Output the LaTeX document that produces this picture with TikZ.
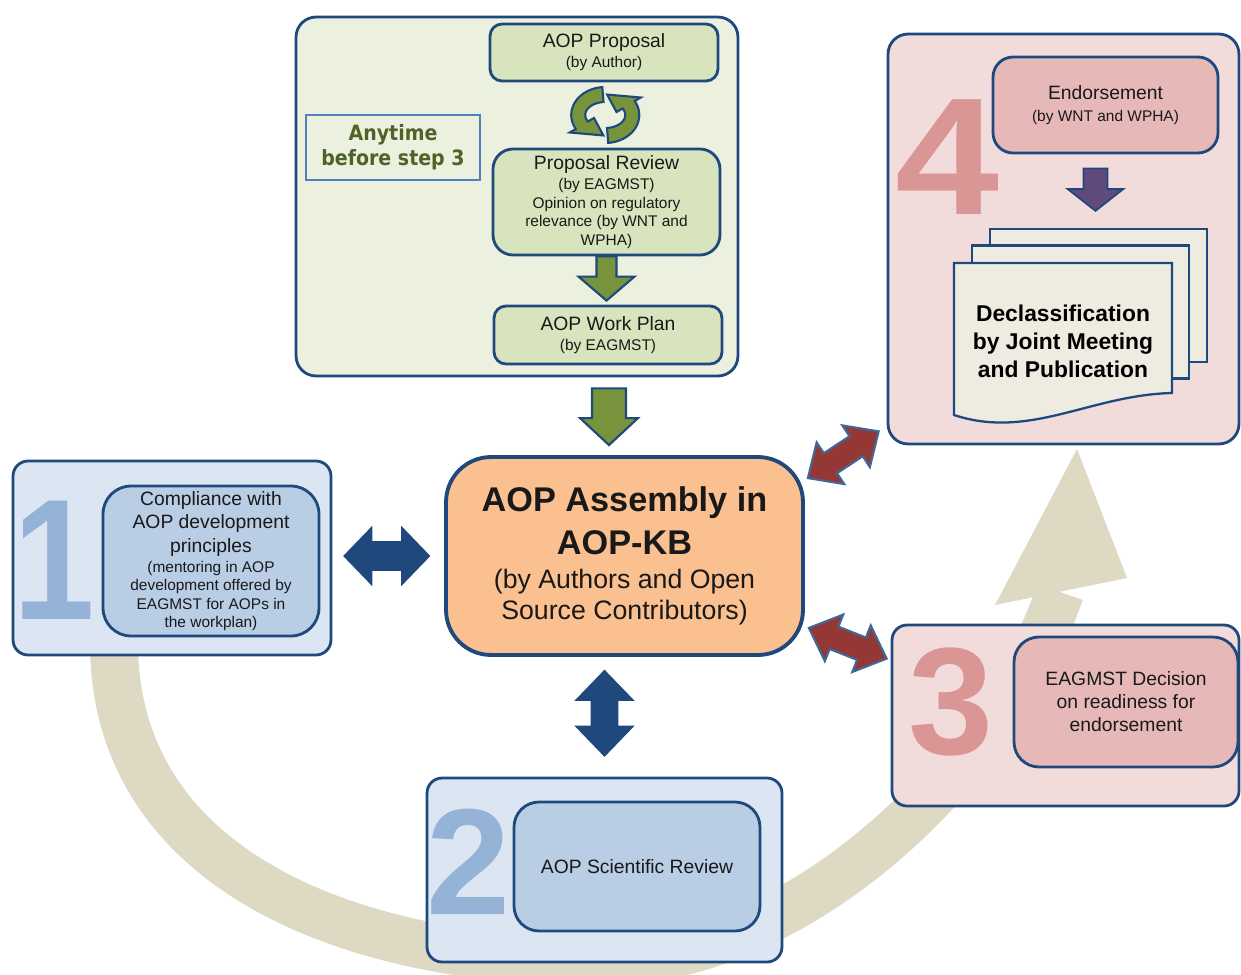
\documentclass[tikz,border=0pt]{standalone}
\usepackage{fontspec}
\setmainfont{Liberation Sans}
\newfontfamily\anytimefont{DejaVu Sans}[FakeStretch=0.9]
\usepackage{tikz}
\definecolor{Dblue}{RGB}{31,73,125}
\definecolor{Sblue}{RGB}{79,129,189}
\definecolor{Gpanel}{RGB}{235,241,222}
\definecolor{Gbox}{RGB}{215,228,189}
\definecolor{Garrow}{RGB}{119,147,60}
\definecolor{Gtext}{RGB}{79,98,40}
\definecolor{Orange}{RGB}{250,192,144}
\definecolor{Bpanel}{RGB}{220,230,242}
\definecolor{Bbox}{RGB}{185,205,229}
\definecolor{Bnum}{RGB}{149,179,215}
\definecolor{Rpanel}{RGB}{242,220,219}
\definecolor{Rbox}{RGB}{230,185,184}
\definecolor{Rnum}{RGB}{217,150,148}
\definecolor{Rarrow}{RGB}{149,55,53}
\definecolor{Parrow}{RGB}{96,74,123}
\definecolor{Beige}{RGB}{221,217,195}
\definecolor{Paper}{RGB}{238,236,225}
\usetikzlibrary{calc}

\newcommand{\maintxt}{\fontsize{11}{13.4}\selectfont}
\newcommand{\smalltxt}{\fontsize{8.8}{10.5}\selectfont}

% block arrow: style, from, to, half shaft, half head, head length
\newcommand{\sglarrow}[6]{%
  \coordinate (ah) at ($(#3)!#6!(#2)$);
  \filldraw[#1] ($(#2)!#4!90:(#3)$) -- ($(ah)!#4!90:(#3)$) -- ($(ah)!#5!90:(#3)$) -- (#3)
    -- ($(ah)!#5!-90:(#3)$) -- ($(ah)!#4!-90:(#3)$) -- ($(#2)!#4!-90:(#3)$) -- cycle;}
\newcommand{\dblarrow}[6]{%
  \coordinate (aha) at ($(#2)!#6!(#3)$);
  \coordinate (ahb) at ($(#3)!#6!(#2)$);
  \filldraw[#1] (#2) -- ($(aha)!#5!90:(#3)$) -- ($(aha)!#4!90:(#3)$) -- ($(ahb)!#4!90:(#3)$)
    -- ($(ahb)!#5!90:(#3)$) -- (#3) -- ($(ahb)!#5!-90:(#3)$) -- ($(ahb)!#4!-90:(#3)$)
    -- ($(aha)!#4!-90:(#3)$) -- ($(aha)!#5!-90:(#3)$) -- cycle;}

\tikzset{
  panel/.style={draw=Dblue, line width=1.6pt, rounded corners=0.4cm},
  stepbox/.style={draw=Dblue, line width=1.6pt, rounded corners=0.3cm, align=center, text=black!90, inner sep=0pt, font=\smalltxt},
  bignum/.style={inner sep=0pt, font=\fontsize{#1}{#1}\selectfont\bfseries},
  page/.style={draw=Dblue, line width=1.3pt, fill=Paper, minimum width=4.34cm, minimum height=2.66cm},
  olivearrow/.style={fill=Garrow, draw=Dblue, line width=1.2pt},
  bluearrow/.style={fill=Dblue, draw=Dblue, line width=1pt},
  redarrow/.style={fill=Rarrow, draw=Sblue!80!black, line width=1.2pt},
  purplearrow/.style={fill=Parrow, draw=Dblue, line width=1pt},
  cycleband/.style={draw=Beige, line width=0.96cm},
}

\begin{document}
\begin{tikzpicture}[x=0.02cm, y=-0.02cm]
  \useasboundingbox (0,0) rectangle (1241,974);

  % the review cycle behind everything
  \coordinate (cycend) at (1060,592);
  \draw[cycleband] (114,640) .. controls (112,870) and (350,962) .. (600,962)
    .. controls (800,962) and (1000,768) .. (cycend);
  \fill[Beige] ($(cycend)+(-65,13)$) -- ($(cycend)+(17,-143)$) -- ($(cycend)+(67,-14)$) -- cycle;

  % proposal stage
  \node[panel, fill=Gpanel, minimum width=8.84cm, minimum height=7.18cm] (proposalpanel) at (517,196.5) {};
  \node[stepbox, fill=Gbox, rounded corners=0.24cm, minimum width=4.56cm, minimum height=1.14cm] (proposal) at (604,52.5)
    {\maintxt AOP Proposal\\[0.9pt]\smalltxt (by Author)};
  \node[stepbox, fill=Gbox, rounded corners=0.4cm, minimum width=4.54cm, minimum height=2.12cm] (review) at (606.5,202)
    {\maintxt Proposal Review\\[0.9pt]\smalltxt (by EAGMST)\\\smalltxt Opinion on regulatory\\\smalltxt relevance (by WNT and\\\smalltxt WPHA)};
  \node[stepbox, fill=Gbox, rounded corners=0.24cm, minimum width=4.56cm, minimum height=1.16cm] (plan) at (608,335)
    {\maintxt AOP Work Plan\\[0.9pt]\smalltxt (by EAGMST)};
  \node[draw=Sblue, line width=0.6pt, minimum width=3.48cm, minimum height=1.3cm, align=center, text=Gtext,
        font=\anytimefont\bfseries\fontsize{12}{14.2}\selectfont] (anytime) at (393,147.5) {Anytime\\before step 3};

  % recycle sign
  \begin{scope}[shift={($(proposal.south)!0.5!(review.north)$)}, yscale=-1]
    \foreach \r in {0,180}{
      \filldraw[olivearrow, rotate=\r] plot[domain=95:210, samples=25] ({34*cos(\x)},{28*sin(\x)})
        -- ({41*cos(210)},{35*sin(210)}) -- ({27*cos(266)},{20.5*sin(266)})
        -- ({13*cos(210)},{6*sin(210)}) -- plot[domain=210:95, samples=25] ({20*cos(\x)},{13*sin(\x)}) -- cycle;
    }
  \end{scope}

  % assembly
  \node[stepbox, fill=Orange, line width=2.2pt, rounded corners=0.9cm, minimum width=7.14cm, minimum height=3.96cm,
        font=\fontsize{15.2}{17.6}\selectfont] (assembly) at (624.5,556)
    {\fontsize{19.5}{23.5}\selectfont\bfseries AOP Assembly in\\[5.7pt]\fontsize{19.5}{23.5}\selectfont\bfseries AOP-KB\\[1.7pt]
     (by Authors and Open\\Source Contributors)};

  % step 1
  \node[panel, fill=Bpanel, rounded corners=0.3cm, minimum width=6.36cm, minimum height=3.88cm] (panel1) at (172,558) {};
  \node[bignum=98, text=Bnum, xscale=0.85] (num1) at (54,560) {1};
  \node[stepbox, fill=Bbox, rounded corners=0.56cm, minimum width=4.32cm, minimum height=3.0cm] (compliance) at (211,561)
    {\maintxt Compliance with\\[2.9pt]\maintxt AOP development\\[2.9pt]\maintxt principles\\[0.9pt]\smalltxt (mentoring in AOP\\\smalltxt development offered by\\\smalltxt EAGMST for AOPs in\\\smalltxt the workplan)};

  % step 2
  \node[panel, fill=Bpanel, rounded corners=0.3cm, minimum width=7.1cm, minimum height=3.68cm] (panel2) at (604.5,870) {};
  \node[bignum=86, text=Bnum] (num2) at (469,862) {2};
  \node[stepbox, fill=Bbox, rounded corners=0.5cm, minimum width=4.92cm, minimum height=2.58cm] (scireview) at (637,866.5)
    {\maintxt AOP Scientific Review};

  % step 3
  \node[panel, fill=Rpanel, rounded corners=0.3cm, minimum width=6.94cm, minimum height=3.62cm] (panel3) at (1065.5,715.5) {};
  \node[bignum=87, text=Rnum] (num3) at (951,702) {3};
  \node[stepbox, fill=Rbox, rounded corners=0.5cm, minimum width=4.48cm, minimum height=2.6cm, font=\fontsize{11}{13.1}\selectfont] (decision) at (1126,702)
    {EAGMST Decision\\on readiness for\\endorsement};

  % step 4
  \node[panel, fill=Rpanel, minimum width=7.02cm, minimum height=8.2cm] (panel4) at (1063.5,239) {};
  \node[bignum=95, text=Rnum, xscale=1.12] (num4) at (947,157) {4};
  \node[stepbox, fill=Rbox, rounded corners=0.4cm, minimum width=4.5cm, minimum height=1.92cm] (endorse) at (1105.5,105)
    {\maintxt Endorsement\\[2.2pt]\smalltxt (by WNT and WPHA)};
  \node[page] (page3) at (1098.5,295.5) {};
  \node[page] (page2) at (1080.5,312) {};
  \filldraw[draw=Dblue, line width=1.3pt, fill=Paper] (954,263) -- (1172,263) -- (1172,393)
    .. controls (1090,395) and (1030,440) .. (954,415) -- cycle;
  \node[align=center, font=\fontsize{13}{16}\selectfont\bfseries] (declass) at (1063,341)
    {Declassification\\by Joint Meeting\\and Publication};

  % block arrows
  \coordinate (gs1) at (review.south);
  \coordinate (gs2) at ($(review.south |- plan.north)+(0,-4)$);
  \sglarrow{olivearrow}{gs1}{gs2}{0.2cm}{0.56cm}{0.48cm}
  \coordinate (gb1) at ($(plan.south |- proposalpanel.south)+(1,11)$);
  \coordinate (gb2) at ($(plan.south |- assembly.north)+(1,-10)$);
  \sglarrow{olivearrow}{gb1}{gb2}{0.34cm}{0.58cm}{0.54cm}
  \coordinate (pu1) at ($(endorse.south)+(-10,14)$);
  \coordinate (pu2) at ($(page3.north)+(-3,-17)$);
  \sglarrow{purplearrow}{pu1}{pu2}{0.24cm}{0.56cm}{0.44cm}
  \coordinate (bh1) at ($(panel1.east |- assembly.west)+(12,0)$);
  \coordinate (bh2) at ($(assembly.west)+(-15,0)$);
  \dblarrow{bluearrow}{bh1}{bh2}{0.28cm}{0.56cm}{0.54cm}
  \coordinate (bv1) at ($(panel2.north |- assembly.south)+(0,14)$);
  \coordinate (bv2) at ($(panel2.north)+(0,-21)$);
  \dblarrow{bluearrow}{bv1}{bv2}{0.26cm}{0.56cm}{0.58cm}
  \coordinate (ru1) at ($(assembly.north east)+(3,23)$);
  \coordinate (ru2) at ($(panel4.south west)+(-8,-14)$);
  \dblarrow{redarrow}{ru1}{ru2}{0.24cm}{0.5cm}{0.54cm}
  \coordinate (rl1) at ($(assembly.south east)+(4,-29)$);
  \coordinate (rl2) at ($(panel3.north west)+(-4,35)$);
  \dblarrow{redarrow}{rl1}{rl2}{0.24cm}{0.5cm}{0.54cm}
\end{tikzpicture}
\end{document}
